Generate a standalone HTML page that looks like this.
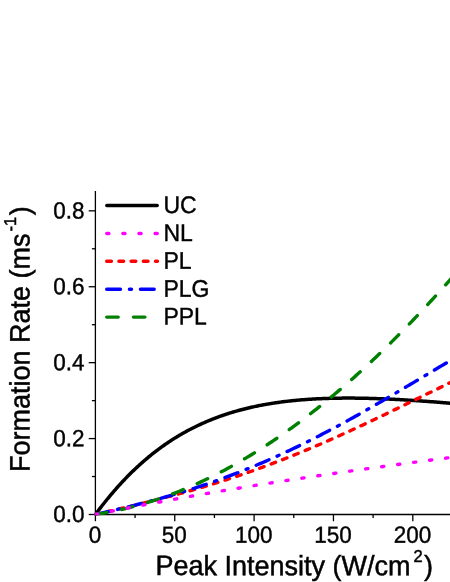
<!DOCTYPE html>
<html><head><meta charset="utf-8"><title>chart</title>
<style>
html,body{margin:0;padding:0;background:#fff;}
body{width:450px;height:582px;overflow:hidden;}
svg{display:block;}
text{font-family:"Liberation Sans",sans-serif;fill:#000;stroke:#000;stroke-width:0.4px;}
.t{font-size:22.5px;}
.a{font-size:27px;stroke-width:0.5px;}
.c{fill:none;stroke-width:3.4;stroke-linejoin:round;}
</style></head><body>
<svg width="450" height="582" viewBox="0 0 450 582">
<rect width="450" height="582" fill="#fff"/>
<g stroke="#000" stroke-width="1.3" fill="none">
<line x1="95.4" y1="191" x2="95.4" y2="515.15"/>
<line x1="94.75" y1="514.5" x2="450" y2="514.5"/>
<line x1="95.40" y1="514.5" x2="95.40" y2="521.2"/><line x1="135.07" y1="514.5" x2="135.07" y2="518.0"/><line x1="174.75" y1="514.5" x2="174.75" y2="521.2"/><line x1="214.43" y1="514.5" x2="214.43" y2="518.0"/><line x1="254.10" y1="514.5" x2="254.10" y2="521.2"/><line x1="293.77" y1="514.5" x2="293.77" y2="518.0"/><line x1="333.45" y1="514.5" x2="333.45" y2="521.2"/><line x1="373.12" y1="514.5" x2="373.12" y2="518.0"/><line x1="412.80" y1="514.5" x2="412.80" y2="521.2"/><line x1="452.48" y1="514.5" x2="452.48" y2="518.0"/><line x1="88.7" y1="514.50" x2="95.4" y2="514.50"/><line x1="91.9" y1="476.54" x2="95.4" y2="476.54"/><line x1="88.7" y1="438.58" x2="95.4" y2="438.58"/><line x1="91.9" y1="400.62" x2="95.4" y2="400.62"/><line x1="88.7" y1="362.66" x2="95.4" y2="362.66"/><line x1="91.9" y1="324.70" x2="95.4" y2="324.70"/><line x1="88.7" y1="286.74" x2="95.4" y2="286.74"/><line x1="91.9" y1="248.78" x2="95.4" y2="248.78"/><line x1="88.7" y1="210.82" x2="95.4" y2="210.82"/>
</g>
<clipPath id="cp"><rect x="94.75" y="0" width="360" height="515.15"/></clipPath>
<g class="c" stroke-linecap="round" clip-path="url(#cp)">
<path d="M95.40,514.50 L96.40,513.15 L97.40,511.81 L98.40,510.48 L99.40,509.16 L100.40,507.85 L101.40,506.55 L102.40,505.27 L103.40,503.99 L104.40,502.73 L105.40,501.48 L106.40,500.24 L107.40,499.00 L108.40,497.78 L109.40,496.57 L110.40,495.38 L111.40,494.19 L112.40,493.01 L113.40,491.84 L114.40,490.69 L115.40,489.54 L116.40,488.40 L117.40,487.28 L118.40,486.16 L119.40,485.06 L120.40,483.96 L121.40,482.88 L122.40,481.80 L123.40,480.74 L124.40,479.68 L125.40,478.64 L126.40,477.60 L127.40,476.58 L128.40,475.56 L129.40,474.56 L130.40,473.56 L131.40,472.57 L132.40,471.60 L133.40,470.63 L134.40,469.67 L135.40,468.72 L136.40,467.78 L137.40,466.85 L138.40,465.93 L139.40,465.02 L140.40,464.11 L141.40,463.22 L142.40,462.34 L143.40,461.46 L144.40,460.59 L145.40,459.73 L146.40,458.88 L147.40,458.04 L148.40,457.21 L149.40,456.38 L150.40,455.57 L151.40,454.76 L152.40,453.96 L153.40,453.17 L154.40,452.39 L155.40,451.61 L156.40,450.85 L157.40,450.09 L158.40,449.34 L159.40,448.60 L160.40,447.86 L161.40,447.14 L162.40,446.42 L163.40,445.71 L164.40,445.00 L165.40,444.31 L166.40,443.62 L167.40,442.94 L168.40,442.27 L169.40,441.60 L170.40,440.94 L171.40,440.29 L172.40,439.65 L173.40,439.01 L174.40,438.38 L175.40,437.76 L176.40,437.14 L177.40,436.54 L178.40,435.93 L179.40,435.34 L180.40,434.75 L181.40,434.17 L182.40,433.59 L183.40,433.03 L184.40,432.47 L185.40,431.91 L186.40,431.36 L187.40,430.82 L188.40,430.28 L189.40,429.76 L190.40,429.23 L191.40,428.71 L192.40,428.20 L193.40,427.70 L194.40,427.20 L195.40,426.71 L196.40,426.22 L197.40,425.74 L198.40,425.27 L199.40,424.80 L200.40,424.33 L201.40,423.88 L202.40,423.42 L203.40,422.98 L204.40,422.54 L205.40,422.10 L206.40,421.67 L207.40,421.25 L208.40,420.83 L209.40,420.42 L210.40,420.01 L211.40,419.60 L212.40,419.21 L213.40,418.81 L214.40,418.43 L215.40,418.04 L216.40,417.67 L217.40,417.29 L218.40,416.93 L219.40,416.56 L220.40,416.20 L221.40,415.85 L222.40,415.50 L223.40,415.16 L224.40,414.82 L225.40,414.49 L226.40,414.16 L227.40,413.83 L228.40,413.51 L229.40,413.19 L230.40,412.88 L231.40,412.57 L232.40,412.27 L233.40,411.97 L234.40,411.68 L235.40,411.39 L236.40,411.10 L237.40,410.82 L238.40,410.54 L239.40,410.27 L240.40,410.00 L241.40,409.73 L242.40,409.47 L243.40,409.21 L244.40,408.96 L245.40,408.71 L246.40,408.46 L247.40,408.22 L248.40,407.98 L249.40,407.75 L250.40,407.51 L251.40,407.29 L252.40,407.06 L253.40,406.84 L254.40,406.62 L255.40,406.41 L256.40,406.20 L257.40,405.99 L258.40,405.79 L259.40,405.59 L260.40,405.40 L261.40,405.20 L262.40,405.01 L263.40,404.83 L264.40,404.64 L265.40,404.46 L266.40,404.29 L267.40,404.11 L268.40,403.94 L269.40,403.77 L270.40,403.61 L271.40,403.45 L272.40,403.29 L273.40,403.13 L274.40,402.98 L275.40,402.83 L276.40,402.68 L277.40,402.54 L278.40,402.40 L279.40,402.26 L280.40,402.12 L281.40,401.99 L282.40,401.86 L283.40,401.73 L284.40,401.61 L285.40,401.48 L286.40,401.37 L287.40,401.25 L288.40,401.13 L289.40,401.02 L290.40,400.91 L291.40,400.80 L292.40,400.70 L293.40,400.60 L294.40,400.50 L295.40,400.40 L296.40,400.31 L297.40,400.21 L298.40,400.12 L299.40,400.03 L300.40,399.95 L301.40,399.86 L302.40,399.78 L303.40,399.70 L304.40,399.63 L305.40,399.55 L306.40,399.48 L307.40,399.41 L308.40,399.34 L309.40,399.27 L310.40,399.21 L311.40,399.15 L312.40,399.09 L313.40,399.03 L314.40,398.97 L315.40,398.92 L316.40,398.86 L317.40,398.81 L318.40,398.77 L319.40,398.72 L320.40,398.67 L321.40,398.63 L322.40,398.59 L323.40,398.55 L324.40,398.51 L325.40,398.48 L326.40,398.44 L327.40,398.41 L328.40,398.38 L329.40,398.35 L330.40,398.32 L331.40,398.30 L332.40,398.27 L333.40,398.25 L334.40,398.23 L335.40,398.21 L336.40,398.19 L337.40,398.17 L338.40,398.16 L339.40,398.15 L340.40,398.14 L341.40,398.13 L342.40,398.12 L343.40,398.11 L344.40,398.10 L345.40,398.10 L346.40,398.10 L347.40,398.09 L348.40,398.09 L349.40,398.10 L350.40,398.10 L351.40,398.10 L352.40,398.11 L353.40,398.11 L354.40,398.12 L355.40,398.13 L356.40,398.14 L357.40,398.15 L358.40,398.17 L359.40,398.18 L360.40,398.20 L361.40,398.21 L362.40,398.23 L363.40,398.25 L364.40,398.27 L365.40,398.29 L366.40,398.31 L367.40,398.34 L368.40,398.36 L369.40,398.39 L370.40,398.41 L371.40,398.44 L372.40,398.47 L373.40,398.50 L374.40,398.53 L375.40,398.56 L376.40,398.60 L377.40,398.63 L378.40,398.67 L379.40,398.70 L380.40,398.74 L381.40,398.78 L382.40,398.82 L383.40,398.86 L384.40,398.90 L385.40,398.94 L386.40,398.98 L387.40,399.03 L388.40,399.07 L389.40,399.12 L390.40,399.17 L391.40,399.21 L392.40,399.26 L393.40,399.31 L394.40,399.36 L395.40,399.41 L396.40,399.46 L397.40,399.51 L398.40,399.57 L399.40,399.62 L400.40,399.68 L401.40,399.73 L402.40,399.79 L403.40,399.85 L404.40,399.90 L405.40,399.96 L406.40,400.02 L407.40,400.08 L408.40,400.14 L409.40,400.20 L410.40,400.27 L411.40,400.33 L412.40,400.39 L413.40,400.46 L414.40,400.52 L415.40,400.59 L416.40,400.65 L417.40,400.72 L418.40,400.79 L419.40,400.86 L420.40,400.92 L421.40,400.99 L422.40,401.06 L423.40,401.13 L424.40,401.21 L425.40,401.28 L426.40,401.35 L427.40,401.42 L428.40,401.50 L429.40,401.57 L430.40,401.64 L431.40,401.72 L432.40,401.80 L433.40,401.87 L434.40,401.95 L435.40,402.03 L436.40,402.10 L437.40,402.18 L438.40,402.26 L439.40,402.34 L440.40,402.42 L441.40,402.50 L442.40,402.58 L443.40,402.66 L444.40,402.74 L445.40,402.83 L446.40,402.91 L447.40,402.99 L448.40,403.07 L449.40,403.16 L450.40,403.24 L451.40,403.33 L452.40,403.41 L453.40,403.50 L454.40,403.58 L455.40,403.67 L456.40,403.76 L457.40,403.85 L458.40,403.93 L459.40,404.02" stroke="#000" stroke-width="3.5" stroke-linecap="butt"/>
<path d="M95.40,514.50 L97.40,514.04 L99.40,513.57 L101.40,513.11 L103.40,512.64 L105.40,512.18 L107.40,511.71 L109.40,511.24 L111.40,510.77 L113.40,510.31 L115.40,509.84 L117.40,509.37 L119.40,508.89 L121.40,508.42 L123.40,507.95 L125.40,507.47 L127.40,506.99 L129.40,506.51 L131.40,506.03 L133.40,505.55 L135.40,505.06 L137.40,504.58 L139.40,504.09 L141.40,503.60 L143.40,503.10 L145.40,502.61 L147.40,502.11 L149.40,501.61 L151.40,501.10 L153.40,500.59 L155.40,500.09 L157.40,499.57 L159.40,499.06 L161.40,498.54 L163.40,498.02 L165.40,497.49 L167.40,496.97 L169.40,496.43 L171.40,495.90 L173.40,495.36 L175.40,494.82 L177.40,494.28 L179.40,493.73 L181.40,493.18 L183.40,492.62 L185.40,492.06 L187.40,491.50 L189.40,490.93 L191.40,490.36 L193.40,489.79 L195.40,489.21 L197.40,488.62 L199.40,488.04 L201.40,487.45 L203.40,486.85 L205.40,486.25 L207.40,485.65 L209.40,485.04 L211.40,484.43 L213.40,483.81 L215.40,483.19 L217.40,482.56 L219.40,481.93 L221.40,481.30 L223.40,480.66 L225.40,480.02 L227.40,479.37 L229.40,478.71 L231.40,478.06 L233.40,477.39 L235.40,476.73 L237.40,476.06 L239.40,475.38 L241.40,474.70 L243.40,474.02 L245.40,473.32 L247.40,472.63 L249.40,471.93 L251.40,471.23 L253.40,470.52 L255.40,469.80 L257.40,469.09 L259.40,468.36 L261.40,467.63 L263.40,466.90 L265.40,466.16 L267.40,465.42 L269.40,464.68 L271.40,463.92 L273.40,463.17 L275.40,462.41 L277.40,461.64 L279.40,460.87 L281.40,460.09 L283.40,459.32 L285.40,458.53 L287.40,457.74 L289.40,456.95 L291.40,456.15 L293.40,455.35 L295.40,454.54 L297.40,453.73 L299.40,452.91 L301.40,452.09 L303.40,451.27 L305.40,450.44 L307.40,449.60 L309.40,448.77 L311.40,447.92 L313.40,447.08 L315.40,446.23 L317.40,445.37 L319.40,444.51 L321.40,443.65 L323.40,442.78 L325.40,441.91 L327.40,441.04 L329.40,440.16 L331.40,439.28 L333.40,438.39 L335.40,437.50 L337.40,436.60 L339.40,435.71 L341.40,434.81 L343.40,433.90 L345.40,432.99 L347.40,432.08 L349.40,431.17 L351.40,430.25 L353.40,429.33 L355.40,428.40 L357.40,427.48 L359.40,426.55 L361.40,425.61 L363.40,424.68 L365.40,423.74 L367.40,422.80 L369.40,421.86 L371.40,420.91 L373.40,419.96 L375.40,419.01 L377.40,418.06 L379.40,417.10 L381.40,416.14 L383.40,415.18 L385.40,414.22 L387.40,413.26 L389.40,412.29 L391.40,411.33 L393.40,410.36 L395.40,409.39 L397.40,408.42 L399.40,407.44 L401.40,406.47 L403.40,405.50 L405.40,404.52 L407.40,403.54 L409.40,402.57 L411.40,401.59 L413.40,400.61 L415.40,399.63 L417.40,398.65 L419.40,397.67 L421.40,396.69 L423.40,395.71 L425.40,394.74 L427.40,393.76 L429.40,392.78 L431.40,391.80 L433.40,390.82 L435.40,389.85 L437.40,388.87 L439.40,387.90 L441.40,386.92 L443.40,385.95 L445.40,384.98 L447.40,384.01 L449.40,383.05 L451.40,382.08 L453.40,381.12 L455.40,380.16 L457.40,379.20 L459.40,378.24" stroke="#ff0000" stroke-dasharray="4.7 7.5"/>
<path d="M95.40,514.50 L97.40,514.05 L99.40,513.60 L101.40,513.14 L103.40,512.68 L105.40,512.23 L107.40,511.76 L109.40,511.30 L111.40,510.84 L113.40,510.37 L115.40,509.90 L117.40,509.43 L119.40,508.95 L121.40,508.47 L123.40,507.99 L125.40,507.50 L127.40,507.02 L129.40,506.53 L131.40,506.03 L133.40,505.53 L135.40,505.03 L137.40,504.52 L139.40,504.02 L141.40,503.50 L143.40,502.98 L145.40,502.46 L147.40,501.94 L149.40,501.41 L151.40,500.87 L153.40,500.34 L155.40,499.79 L157.40,499.25 L159.40,498.69 L161.40,498.14 L163.40,497.57 L165.40,497.01 L167.40,496.44 L169.40,495.86 L171.40,495.28 L173.40,494.69 L175.40,494.10 L177.40,493.50 L179.40,492.90 L181.40,492.29 L183.40,491.68 L185.40,491.06 L187.40,490.43 L189.40,489.80 L191.40,489.17 L193.40,488.53 L195.40,487.88 L197.40,487.23 L199.40,486.57 L201.40,485.90 L203.40,485.23 L205.40,484.56 L207.40,483.87 L209.40,483.18 L211.40,482.49 L213.40,481.79 L215.40,481.08 L217.40,480.37 L219.40,479.65 L221.40,478.92 L223.40,478.19 L225.40,477.45 L227.40,476.71 L229.40,475.96 L231.40,475.20 L233.40,474.44 L235.40,473.67 L237.40,472.89 L239.40,472.11 L241.40,471.32 L243.40,470.52 L245.40,469.72 L247.40,468.91 L249.40,468.10 L251.40,467.28 L253.40,466.45 L255.40,465.62 L257.40,464.78 L259.40,463.93 L261.40,463.08 L263.40,462.22 L265.40,461.35 L267.40,460.48 L269.40,459.60 L271.40,458.72 L273.40,457.82 L275.40,456.93 L277.40,456.02 L279.40,455.11 L281.40,454.20 L283.40,453.27 L285.40,452.35 L287.40,451.41 L289.40,450.47 L291.40,449.52 L293.40,448.57 L295.40,447.61 L297.40,446.65 L299.40,445.68 L301.40,444.70 L303.40,443.72 L305.40,442.73 L307.40,441.73 L309.40,440.73 L311.40,439.73 L313.40,438.72 L315.40,437.70 L317.40,436.68 L319.40,435.65 L321.40,434.62 L323.40,433.58 L325.40,432.53 L327.40,431.49 L329.40,430.43 L331.40,429.37 L333.40,428.31 L335.40,427.24 L337.40,426.16 L339.40,425.09 L341.40,424.00 L343.40,422.91 L345.40,421.82 L347.40,420.72 L349.40,419.62 L351.40,418.52 L353.40,417.40 L355.40,416.29 L357.40,415.17 L359.40,414.05 L361.40,412.92 L363.40,411.79 L365.40,410.66 L367.40,409.52 L369.40,408.38 L371.40,407.23 L373.40,406.09 L375.40,404.93 L377.40,403.78 L379.40,402.62 L381.40,401.46 L383.40,400.30 L385.40,399.13 L387.40,397.96 L389.40,396.79 L391.40,395.62 L393.40,394.44 L395.40,393.27 L397.40,392.09 L399.40,390.91 L401.40,389.72 L403.40,388.54 L405.40,387.35 L407.40,386.16 L409.40,384.97 L411.40,383.78 L413.40,382.59 L415.40,381.40 L417.40,380.21 L419.40,379.01 L421.40,377.82 L423.40,376.63 L425.40,375.43 L427.40,374.24 L429.40,373.04 L431.40,371.85 L433.40,370.66 L435.40,369.47 L437.40,368.27 L439.40,367.08 L441.40,365.89 L443.40,364.70 L445.40,363.52 L447.40,362.33 L449.40,361.15 L451.40,359.96 L453.40,358.78 L455.40,357.61 L457.40,356.43 L459.40,355.26" stroke="#0000ff" stroke-dasharray="13.8 8.9 2.1 8.9"/>
<path d="M95.40,514.50 L97.40,514.19 L99.40,513.87 L101.40,513.53 L103.40,513.18 L105.40,512.82 L107.40,512.45 L109.40,512.07 L111.40,511.68 L113.40,511.27 L115.40,510.85 L117.40,510.42 L119.40,509.98 L121.40,509.52 L123.40,509.06 L125.40,508.58 L127.40,508.09 L129.40,507.59 L131.40,507.08 L133.40,506.55 L135.40,506.01 L137.40,505.47 L139.40,504.90 L141.40,504.33 L143.40,503.75 L145.40,503.15 L147.40,502.54 L149.40,501.92 L151.40,501.29 L153.40,500.65 L155.40,499.99 L157.40,499.32 L159.40,498.65 L161.40,497.95 L163.40,497.25 L165.40,496.54 L167.40,495.81 L169.40,495.07 L171.40,494.32 L173.40,493.56 L175.40,492.79 L177.40,492.00 L179.40,491.21 L181.40,490.40 L183.40,489.58 L185.40,488.74 L187.40,487.90 L189.40,487.04 L191.40,486.18 L193.40,485.30 L195.40,484.41 L197.40,483.50 L199.40,482.59 L201.40,481.66 L203.40,480.72 L205.40,479.78 L207.40,478.81 L209.40,477.84 L211.40,476.86 L213.40,475.86 L215.40,474.85 L217.40,473.83 L219.40,472.80 L221.40,471.76 L223.40,470.71 L225.40,469.64 L227.40,468.56 L229.40,467.47 L231.40,466.37 L233.40,465.26 L235.40,464.14 L237.40,463.00 L239.40,461.86 L241.40,460.70 L243.40,459.53 L245.40,458.35 L247.40,457.16 L249.40,455.95 L251.40,454.74 L253.40,453.51 L255.40,452.27 L257.40,451.02 L259.40,449.76 L261.40,448.49 L263.40,447.20 L265.40,445.91 L267.40,444.60 L269.40,443.28 L271.40,441.96 L273.40,440.61 L275.40,439.26 L277.40,437.90 L279.40,436.53 L281.40,435.14 L283.40,433.74 L285.40,432.34 L287.40,430.92 L289.40,429.49 L291.40,428.04 L293.40,426.59 L295.40,425.13 L297.40,423.65 L299.40,422.17 L301.40,420.67 L303.40,419.16 L305.40,417.64 L307.40,416.11 L309.40,414.57 L311.40,413.02 L313.40,411.46 L315.40,409.88 L317.40,408.30 L319.40,406.70 L321.40,405.09 L323.40,403.48 L325.40,401.85 L327.40,400.21 L329.40,398.56 L331.40,396.90 L333.40,395.22 L335.40,393.54 L337.40,391.85 L339.40,390.14 L341.40,388.43 L343.40,386.70 L345.40,384.97 L347.40,383.22 L349.40,381.46 L351.40,379.69 L353.40,377.91 L355.40,376.12 L357.40,374.32 L359.40,372.51 L361.40,370.69 L363.40,368.86 L365.40,367.02 L367.40,365.17 L369.40,363.30 L371.40,361.43 L373.40,359.55 L375.40,357.65 L377.40,355.75 L379.40,353.83 L381.40,351.91 L383.40,349.97 L385.40,348.03 L387.40,346.07 L389.40,344.10 L391.40,342.13 L393.40,340.14 L395.40,338.15 L397.40,336.14 L399.40,334.12 L401.40,332.10 L403.40,330.06 L405.40,328.01 L407.40,325.96 L409.40,323.89 L411.40,321.81 L413.40,319.73 L415.40,317.63 L417.40,315.53 L419.40,313.41 L421.40,311.28 L423.40,309.15 L425.40,307.00 L427.40,304.85 L429.40,302.68 L431.40,300.51 L433.40,298.33 L435.40,296.13 L437.40,293.93 L439.40,291.72 L441.40,289.49 L443.40,287.26 L445.40,285.02 L447.40,282.77 L449.40,280.51 L451.40,278.24 L453.40,275.96 L455.40,273.68 L457.40,271.38 L459.40,269.07" stroke="#008000" stroke-dasharray="11.5 15.2"/>
<path d="M95.40,514.50 L97.40,514.09 L99.40,513.68 L101.40,513.27 L103.40,512.86 L105.40,512.46 L107.40,512.05 L109.40,511.65 L111.40,511.25 L113.40,510.85 L115.40,510.45 L117.40,510.05 L119.40,509.65 L121.40,509.26 L123.40,508.86 L125.40,508.47 L127.40,508.08 L129.40,507.69 L131.40,507.30 L133.40,506.91 L135.40,506.52 L137.40,506.14 L139.40,505.75 L141.40,505.37 L143.40,504.99 L145.40,504.61 L147.40,504.23 L149.40,503.85 L151.40,503.47 L153.40,503.10 L155.40,502.72 L157.40,502.35 L159.40,501.98 L161.40,501.61 L163.40,501.24 L165.40,500.87 L167.40,500.50 L169.40,500.14 L171.40,499.77 L173.40,499.41 L175.40,499.05 L177.40,498.68 L179.40,498.32 L181.40,497.96 L183.40,497.61 L185.40,497.25 L187.40,496.89 L189.40,496.54 L191.40,496.19 L193.40,495.83 L195.40,495.48 L197.40,495.13 L199.40,494.78 L201.40,494.43 L203.40,494.09 L205.40,493.74 L207.40,493.39 L209.40,493.05 L211.40,492.71 L213.40,492.36 L215.40,492.02 L217.40,491.68 L219.40,491.34 L221.40,491.01 L223.40,490.67 L225.40,490.33 L227.40,490.00 L229.40,489.66 L231.40,489.33 L233.40,489.00 L235.40,488.67 L237.40,488.34 L239.40,488.01 L241.40,487.68 L243.40,487.35 L245.40,487.03 L247.40,486.70 L249.40,486.38 L251.40,486.05 L253.40,485.73 L255.40,485.41 L257.40,485.09 L259.40,484.77 L261.40,484.45 L263.40,484.13 L265.40,483.82 L267.40,483.50 L269.40,483.18 L271.40,482.87 L273.40,482.56 L275.40,482.24 L277.40,481.93 L279.40,481.62 L281.40,481.31 L283.40,481.00 L285.40,480.69 L287.40,480.38 L289.40,480.08 L291.40,479.77 L293.40,479.47 L295.40,479.16 L297.40,478.86 L299.40,478.55 L301.40,478.25 L303.40,477.95 L305.40,477.65 L307.40,477.35 L309.40,477.05 L311.40,476.75 L313.40,476.45 L315.40,476.16 L317.40,475.86 L319.40,475.57 L321.40,475.27 L323.40,474.98 L325.40,474.68 L327.40,474.39 L329.40,474.10 L331.40,473.81 L333.40,473.52 L335.40,473.23 L337.40,472.94 L339.40,472.65 L341.40,472.36 L343.40,472.08 L345.40,471.79 L347.40,471.50 L349.40,471.22 L351.40,470.94 L353.40,470.65 L355.40,470.37 L357.40,470.09 L359.40,469.80 L361.40,469.52 L363.40,469.24 L365.40,468.96 L367.40,468.68 L369.40,468.40 L371.40,468.12 L373.40,467.85 L375.40,467.57 L377.40,467.29 L379.40,467.02 L381.40,466.74 L383.40,466.47 L385.40,466.19 L387.40,465.92 L389.40,465.64 L391.40,465.37 L393.40,465.10 L395.40,464.83 L397.40,464.56 L399.40,464.29 L401.40,464.02 L403.40,463.75 L405.40,463.48 L407.40,463.21 L409.40,462.94 L411.40,462.67 L413.40,462.40 L415.40,462.14 L417.40,461.87 L419.40,461.61 L421.40,461.34 L423.40,461.07 L425.40,460.81 L427.40,460.55 L429.40,460.28 L431.40,460.02 L433.40,459.76 L435.40,459.49 L437.40,459.23 L439.40,458.97 L441.40,458.71 L443.40,458.45 L445.40,458.19 L447.40,457.92 L449.40,457.66 L451.40,457.41 L453.40,457.15 L455.40,456.89 L457.40,456.63 L459.40,456.37" stroke="#ff00ff" stroke-dasharray="2.2 13.925"/>
</g>
<g opacity="0.999">
<g class="t"><text transform="translate(95.00,542.8) rotate(0.03) scale(1,1.04)" text-anchor="middle">0</text><text transform="translate(174.35,542.8) rotate(0.03) scale(1,1.04)" text-anchor="middle">50</text><text transform="translate(253.70,542.8) rotate(0.03) scale(1,1.04)" text-anchor="middle">100</text><text transform="translate(333.05,542.8) rotate(0.03) scale(1,1.04)" text-anchor="middle">150</text><text transform="translate(412.40,542.8) rotate(0.03) scale(1,1.04)" text-anchor="middle">200</text><text transform="translate(84.5,522.10) rotate(0.03) scale(1,1.04)" text-anchor="end">0.0</text><text transform="translate(84.5,446.18) rotate(0.03) scale(1,1.04)" text-anchor="end">0.2</text><text transform="translate(84.5,370.26) rotate(0.03) scale(1,1.04)" text-anchor="end">0.4</text><text transform="translate(84.5,294.34) rotate(0.03) scale(1,1.04)" text-anchor="end">0.6</text><text transform="translate(84.5,218.42) rotate(0.03) scale(1,1.04)" text-anchor="end">0.8</text></g>
<g class="c" stroke-linecap="round">
<line x1="106.8" y1="205.5" x2="157.2" y2="205.5" stroke="#000" stroke-width="3.4"/>
<line x1="106.7" y1="233.5" x2="157.4" y2="233.5" stroke="#ff00ff" stroke-dasharray="2.2 13.925"/>
<line x1="106.7" y1="261.3" x2="157.4" y2="261.3" stroke="#ff0000" stroke-dasharray="4.7 7.5"/>
<line x1="106.7" y1="289.2" x2="157.4" y2="289.2" stroke="#0000ff" stroke-dasharray="13.8 8.9 2.1 8.9"/>
<line x1="106.7" y1="317.1" x2="157.4" y2="317.1" stroke="#008000" stroke-dasharray="11.5 15.2"/>
</g>
<g class="t" style="font-size:23px">
<text transform="translate(163.4,213.0) rotate(0.03) scale(1,1.04)">UC</text>
<text transform="translate(163.4,241.0) rotate(0.03) scale(1,1.04)">NL</text>
<text transform="translate(163.4,268.8) rotate(0.03) scale(1,1.04)">PL</text>
<text transform="translate(163.4,296.7) rotate(0.03) scale(1,1.04)">PLG</text>
<text transform="translate(163.4,324.6) rotate(0.03) scale(1,1.04)">PPL</text>
</g>
<text class="a" transform="translate(155.5,575.1) rotate(0.03) scale(1,1.04)">Peak Intensity (W/cm<tspan font-size="16.5" dy="-12.8" dx="3">2</tspan><tspan dy="12.8" dx="1.3">)</tspan></text>
<text class="a" transform="translate(29.5,472) rotate(-89.97) scale(1,1.04)">Formation Rate (ms<tspan font-size="16.5" dy="-13.1" dx="2.1">-1</tspan><tspan dy="13.1" dx="1.6">)</tspan></text>
</g>
</svg>
</body></html>
